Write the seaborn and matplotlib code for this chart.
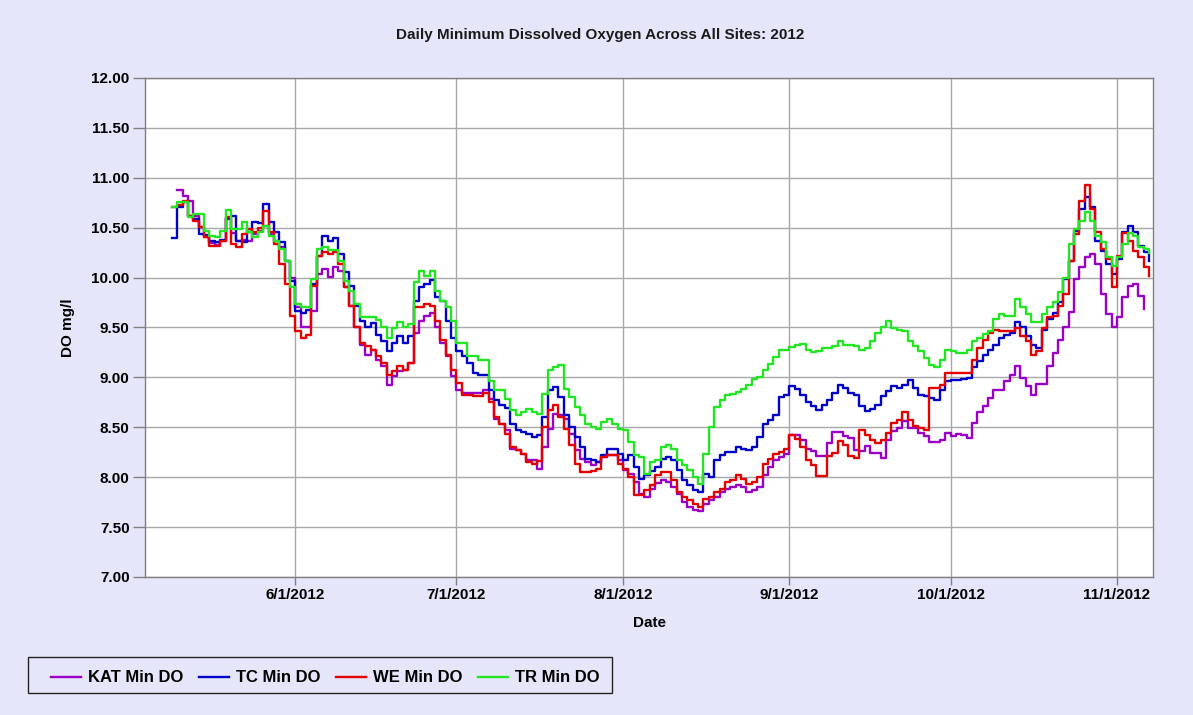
import numpy as np
import pandas as pd
import matplotlib
matplotlib.use("Agg")
import matplotlib.pyplot as plt
from matplotlib.lines import Line2D
from matplotlib.patches import Rectangle
from matplotlib.ticker import FormatStrFormatter
import seaborn as sns

# ---------------- data ----------------
start_date = "2012-05-09"
n_days = 183
series_names = ["KAT Min DO", "TC Min DO", "WE Min DO", "TR Min DO"]
series_colors = ["#9A00C8", "#0000C8", "#E40000", "#22E622"]
x_tick_dates = ["2012-06-01", "2012-07-01", "2012-08-01", "2012-09-01", "2012-10-01", "2012-11-01"]
x_tick_labels = ["6/1/2012", "7/1/2012", "8/1/2012", "9/1/2012", "10/1/2012", "11/1/2012"]
nan = np.nan

kat = [nan, 10.88, 10.82, 10.77, 10.62, 10.51, 10.41, 10.35, 10.33, 10.37,
       10.59, 10.45, 10.37, 10.38, 10.37, 10.44, 10.47, 10.52, 10.44, 10.37,
       10.31, 10.17, 10.00, 9.71, 9.51, 9.50, 9.67, 10.04, 10.09, 10.01,
       10.11, 10.07, 9.91, 9.72, 9.51, 9.32, 9.22, 9.27, 9.17, 9.11,
       8.92, 9.01, 9.06, 9.07, 9.14, 9.44, 9.57, 9.62, 9.65, 9.51,
       9.34, 9.21, 9.01, 8.87, 8.84, 8.84, 8.84, 8.84, 8.87, 8.78,
       8.58, 8.53, 8.47, 8.28, 8.27, 8.23, 8.17, 8.17, 8.08, 8.30,
       8.48, 8.63, 8.62, 8.58, 8.43, 8.27, 8.18, 8.15, 8.12, 8.15,
       8.20, 8.22, 8.22, 8.17, 8.07, 8.03, 7.95, 7.83, 7.80, 7.88,
       7.94, 7.97, 7.95, 7.90, 7.83, 7.75, 7.70, 7.67, 7.66, 7.73,
       7.77, 7.80, 7.85, 7.88, 7.90, 7.92, 7.90, 7.85, 7.87, 7.90,
       8.02, 8.10, 8.17, 8.20, 8.23, 8.42, 8.42, 8.37, 8.28, 8.26,
       8.21, 8.21, 8.34, 8.45, 8.45, 8.41, 8.39, 8.27, 8.26, 8.31,
       8.24, 8.24, 8.19, 8.37, 8.46, 8.49, 8.56, 8.49, 8.49, 8.44,
       8.41, 8.35, 8.35, 8.37, 8.44, 8.41, 8.43, 8.42, 8.39, 8.54,
       8.65, 8.71, 8.79, 8.87, 8.87, 8.96, 9.02, 9.11, 8.99, 8.91,
       8.82, 8.93, 8.93, 9.11, 9.24, 9.37, 9.51, 9.66, 9.99, 10.11,
       10.21, 10.24, 10.14, 9.84, 9.64, 9.51, 9.61, 9.81, 9.92, 9.94,
       9.82, 9.69, nan]

tc = [10.40, 10.71, 10.76, 10.62, 10.59, 10.44, 10.43, 10.37, 10.36, 10.38,
      10.60, 10.62, 10.37, 10.36, 10.46, 10.56, 10.55, 10.74, 10.56, 10.46,
      10.36, 10.17, 9.97, 9.67, 9.65, 9.68, 9.94, 10.22, 10.42, 10.37,
      10.40, 10.24, 10.06, 9.92, 9.72, 9.57, 9.51, 9.55, 9.42, 9.36,
      9.26, 9.34, 9.41, 9.34, 9.41, 9.77, 9.91, 9.94, 9.98, 9.81,
      9.77, 9.57, 9.39, 9.26, 9.21, 9.14, 9.04, 9.02, 9.02, 8.87,
      8.77, 8.72, 8.69, 8.53, 8.47, 8.45, 8.43, 8.40, 8.42, 8.60,
      8.87, 8.90, 8.80, 8.62, 8.50, 8.40, 8.30, 8.18, 8.17, 8.15,
      8.22, 8.28, 8.28, 8.23, 8.17, 8.22, 8.10, 7.98, 8.02, 8.06,
      8.10, 8.18, 8.20, 8.17, 8.07, 7.97, 7.92, 7.87, 7.85, 8.03,
      8.00, 8.17, 8.22, 8.25, 8.25, 8.30, 8.28, 8.27, 8.30, 8.40,
      8.53, 8.57, 8.62, 8.80, 8.82, 8.91, 8.88, 8.82, 8.75, 8.71,
      8.67, 8.72, 8.77, 8.84, 8.92, 8.89, 8.84, 8.82, 8.71, 8.66,
      8.68, 8.72, 8.81, 8.86, 8.91, 8.89, 8.92, 8.97, 8.89, 8.82,
      8.81, 8.79, 8.77, 8.87, 8.96, 8.97, 8.97, 8.98, 8.99, 9.10,
      9.16, 9.22, 9.27, 9.32, 9.39, 9.42, 9.44, 9.56, 9.51, 9.41,
      9.32, 9.29, 9.47, 9.59, 9.65, 9.76, 9.99, 10.17, 10.47, 10.69,
      10.81, 10.71, 10.37, 10.27, 10.14, 10.04, 10.19, 10.46, 10.52, 10.46,
      10.32, 10.26, 10.17]

we = [10.71, 10.73, 10.77, 10.62, 10.57, 10.51, 10.41, 10.32, 10.32, 10.37,
      10.61, 10.34, 10.31, 10.44, 10.49, 10.46, 10.50, 10.67, 10.46, 10.34,
      10.14, 9.94, 9.62, 9.46, 9.39, 9.42, 9.92, 10.22, 10.26, 10.24,
      10.26, 10.14, 9.91, 9.72, 9.51, 9.34, 9.31, 9.27, 9.21, 9.14,
      9.02, 9.06, 9.11, 9.07, 9.14, 9.71, 9.71, 9.74, 9.72, 9.57,
      9.37, 9.22, 9.07, 8.94, 8.82, 8.82, 8.81, 8.81, 8.84, 8.75,
      8.60, 8.53, 8.43, 8.30, 8.27, 8.23, 8.15, 8.13, 8.16, 8.50,
      8.67, 8.72, 8.60, 8.48, 8.32, 8.13, 8.05, 8.05, 8.06, 8.08,
      8.20, 8.22, 8.22, 8.13, 8.08, 8.00, 7.82, 7.82, 7.87, 7.92,
      8.02, 8.05, 8.05, 7.97, 7.85, 7.80, 7.77, 7.73, 7.70, 7.78,
      7.80, 7.85, 7.88, 7.95, 7.97, 8.02, 7.98, 7.93, 7.95, 8.00,
      8.13, 8.18, 8.23, 8.25, 8.28, 8.42, 8.38, 8.30, 8.17, 8.12,
      8.01, 8.01, 8.21, 8.24, 8.36, 8.32, 8.21, 8.19, 8.47, 8.42,
      8.37, 8.34, 8.37, 8.44, 8.54, 8.57, 8.65, 8.57, 8.51, 8.49,
      8.47, 8.89, 8.89, 8.92, 9.04, 9.04, 9.04, 9.04, 9.04, 9.17,
      9.29, 9.37, 9.44, 9.47, 9.46, 9.46, 9.46, 9.49, 9.41, 9.36,
      9.22, 9.26, 9.49, 9.61, 9.62, 9.72, 9.84, 10.17, 10.44, 10.77,
      10.93, 10.69, 10.46, 10.29, 10.19, 9.91, 10.22, 10.45, 10.37, 10.27,
      10.21, 10.11, 10.02]

tr = [10.71, 10.76, 10.76, 10.61, 10.64, 10.64, 10.47, 10.42, 10.41, 10.47,
      10.68, 10.49, 10.49, 10.56, 10.46, 10.41, 10.46, 10.52, 10.42, 10.37,
      10.29, 10.17, 9.91, 9.74, 9.71, 9.71, 9.99, 10.29, 10.31, 10.28,
      10.28, 10.17, 9.97, 9.87, 9.74, 9.61, 9.61, 9.61, 9.58, 9.51,
      9.39, 9.49, 9.56, 9.51, 9.54, 9.96, 10.07, 10.02, 10.07, 9.87,
      9.77, 9.71, 9.57, 9.34, 9.34, 9.21, 9.21, 9.17, 9.17, 8.96,
      8.87, 8.87, 8.78, 8.67, 8.62, 8.65, 8.68, 8.65, 8.63, 8.83,
      9.07, 9.10, 9.12, 8.88, 8.80, 8.70, 8.62, 8.53, 8.50, 8.48,
      8.55, 8.58, 8.53, 8.48, 8.47, 8.35, 8.22, 8.20, 8.03, 8.15,
      8.17, 8.30, 8.32, 8.28, 8.17, 8.12, 8.07, 8.00, 7.93, 8.23,
      8.50, 8.70, 8.77, 8.82, 8.83, 8.85, 8.88, 8.92, 8.98, 9.00,
      9.07, 9.13, 9.20, 9.27, 9.27, 9.30, 9.32, 9.33, 9.27, 9.25,
      9.26, 9.29, 9.29, 9.31, 9.36, 9.32, 9.32, 9.31, 9.27, 9.29,
      9.36, 9.44, 9.50, 9.57, 9.49, 9.47, 9.46, 9.36, 9.31, 9.26,
      9.19, 9.12, 9.10, 9.17, 9.27, 9.26, 9.24, 9.24, 9.27, 9.36,
      9.39, 9.43, 9.46, 9.59, 9.64, 9.62, 9.62, 9.79, 9.71, 9.64,
      9.56, 9.56, 9.64, 9.71, 9.76, 9.86, 10.00, 10.34, 10.49, 10.57,
      10.66, 10.57, 10.42, 10.36, 10.21, 10.12, 10.21, 10.34, 10.45, 10.42,
      10.31, 10.29, 10.25]

# ---------------- build table ----------------
dates = pd.date_range(start_date, periods=n_days, freq="D")
frames = []
for name, vals in zip(series_names, [kat, tc, we, tr]):
    frames.append(pd.DataFrame({"Date": dates, "DO": vals, "Site": name}))
df = pd.concat(frames, ignore_index=True).dropna()

# ---------------- style ----------------
bg = "#E6E6FA"
plt.rcParams["font.family"] = ["Liberation Sans", "DejaVu Sans"]

fig = plt.figure(figsize=(11.93, 7.15), dpi=100, facecolor=bg)
W, H = 1193, 715
ax = fig.add_axes([145 / W, 1 - 577 / H, (1153 - 145) / W, (577 - 78) / H])
ax.set_facecolor("white")

sns.lineplot(data=df, x="Date", y="DO", hue="Site", hue_order=series_names,
             palette=series_colors, drawstyle="steps-post", estimator=None,
             errorbar=None, linewidth=1.7, ax=ax, legend=False)

ax.set_xlim(pd.Timestamp("2012-05-04"), pd.Timestamp("2012-11-07 17:00"))
ax.set_ylim(7.0, 12.0)
ax.set_yticks(np.arange(7.0, 12.01, 0.5))
ax.yaxis.set_major_formatter(FormatStrFormatter("%.2f"))
ax.set_xticks(pd.to_datetime(x_tick_dates))
ax.set_xticklabels(x_tick_labels)

ax.grid(True, color="#A8A8A8", linewidth=1.0)
ax.set_axisbelow(True)
for s in ax.spines.values():
    s.set_color("#808080")
    s.set_linewidth(1.0)

ax.tick_params(axis="y", which="major", length=9, width=1, color="#808080",
               labelsize=11, pad=2)
ax.tick_params(axis="x", which="major", length=6, width=1, color="#808080",
               labelsize=11, pad=2)
for lab in ax.get_xticklabels() + ax.get_yticklabels():
    lab.set_fontweight("bold")

ax.set_xlabel("Date", fontsize=11, fontweight="bold", labelpad=10)
ax.set_ylabel("DO mg/l", fontsize=11, fontweight="bold", labelpad=12)

fig.text(600 / W, 1 - 35 / H, "Daily Minimum Dissolved Oxygen Across All Sites: 2012",
         ha="center", va="center", fontsize=11, fontweight="bold", color="#1a1a1a")

# legend box drawn as a figure patch, legend entries placed inside it
fig.patches.append(Rectangle((28 / W, 1 - 693 / H), (612 - 28) / W, 36 / H,
                             transform=fig.transFigure, facecolor=bg,
                             edgecolor="#222222", linewidth=1.0, zorder=0))
handles = [Line2D([], [], color=c, linewidth=1.7) for c in series_colors]
leg = fig.legend(handles, series_names, loc="center left",
                 bbox_to_anchor=(51 / W, 1 - 678 / H), ncol=4, frameon=False,
                 prop={"size": 12, "weight": "bold"}, handlelength=1.8,
                 handletextpad=0.45, columnspacing=0.9, borderpad=0,
                 borderaxespad=0)

fig.savefig("out.png", dpi=100, facecolor=bg)
